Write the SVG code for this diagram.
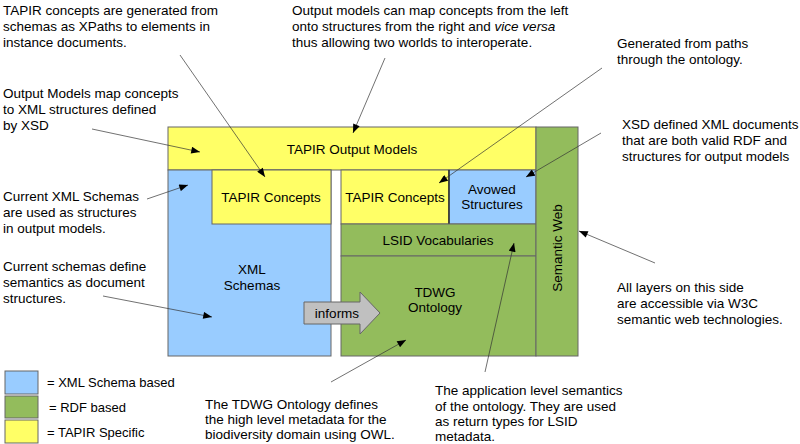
<svg xmlns="http://www.w3.org/2000/svg" width="800" height="444" viewBox="0 0 800 444">
<defs>
<style>
text{font-family:"Liberation Sans",Arial,sans-serif;font-size:13.5px;fill:#000}
.c{text-anchor:middle}
.s{font-size:13px}
.box{stroke:#666;stroke-width:1}
.y{fill:#ffff66}
.b{fill:#99ccff}
.g{fill:#93bc5c}
.ln{stroke:#333;stroke-width:0.7;fill:none;marker-end:url(#ah)}
</style>
<marker id="ah" viewBox="0 0 10 8" refX="10" refY="4" markerWidth="10" markerHeight="7" markerUnits="userSpaceOnUse" orient="auto">
<path d="M0,0 L10,4 L0,8 Z" fill="#000"/>
</marker>
</defs>
<rect width="800" height="444" fill="#fff"/>

<g id="output-models"><rect class="box y" x="168" y="127" width="368" height="43"/><text class="c" x="352" y="154">TAPIR Output Models</text></g>
<g id="xml-schemas"><rect class="box b" x="168" y="170" width="163" height="186"/><text class="c" x="252" y="274">XML</text><text class="c" x="252" y="290">Schemas</text></g>
<g id="tapir-concepts-left"><rect class="box y" x="212" y="170" width="119" height="54"/><text class="c" x="271" y="202">TAPIR Concepts</text></g>
<g id="tapir-concepts-right"><rect class="box y" x="341" y="170" width="108" height="54"/><text class="c" x="395" y="202">TAPIR Concepts</text></g>
<g id="avowed"><rect class="box b" x="449" y="170" width="87" height="54"/><line x1="449" y1="170" x2="449" y2="224" stroke="#000" stroke-width="1"/><text class="c" x="492" y="194">Avowed</text><text class="c" x="492" y="209">Structures</text></g>
<g id="lsid"><rect class="box g" x="341" y="224" width="195" height="32"/><text class="c" x="438" y="245">LSID Vocabularies</text></g>
<g id="tdwg"><rect class="box g" x="341" y="256" width="195" height="100"/><text class="c" x="435" y="297">TDWG</text><text class="c" x="435" y="312">Ontology</text></g>
<g id="semantic-web"><rect class="box g" x="536" y="127" width="42" height="229"/><text class="c" transform="translate(562,248) rotate(-90)">Semantic Web</text></g>
<g id="informs"><path d="M304,302 L360,302 L360,292 L380,313 L360,334 L360,324 L304,324 Z" fill="#c0c0c0" stroke="#666" stroke-width="1"/><text class="c" x="337" y="318">informs</text></g>

<g id="legend">
<rect class="box b" x="5" y="371" width="33" height="23"/>
<rect class="box g" x="5" y="396" width="33" height="22"/>
<rect class="box y" x="5" y="420" width="33" height="23"/>
<text class="s" x="47" y="387">= XML Schema based</text>
<text class="s" x="49" y="412">= RDF based</text>
<text class="s" x="47" y="437">= TAPIR Specific</text>
</g>

<g id="notes">
<text x="3" y="15">TAPIR concepts are generated from</text>
<text x="3" y="31">schemas as XPaths to elements in</text>
<text x="3" y="47">instance documents.</text>
<text x="3" y="98">Output Models map concepts</text>
<text x="3" y="114">to XML structures defined</text>
<text x="3" y="130">by XSD</text>
<text x="292" y="15">Output models can map concepts from the left</text>
<text x="292" y="31">onto structures from the right and <tspan font-style="italic">vice versa</tspan></text>
<text x="292" y="47">thus allowing two worlds to interoperate.</text>
<text x="617" y="48">Generated from paths</text>
<text x="617" y="64">through the ontology.</text>
<text x="622" y="129">XSD defined XML documents</text>
<text x="622" y="145">that are both valid RDF and</text>
<text x="622" y="161">structures for output models</text>
<text x="3" y="201">Current XML Schemas</text>
<text x="3" y="217">are used as structures</text>
<text x="3" y="233">in output models.</text>
<text x="3" y="271">Current schemas define</text>
<text x="3" y="287">semantics as document</text>
<text x="3" y="303">structures.</text>
<text x="617" y="292">All layers on this side</text>
<text x="617" y="308">are accessible via W3C</text>
<text x="617" y="324">semantic web technologies.</text>
<text x="205" y="409">The TDWG Ontology defines</text>
<text x="205" y="424">the high level metadata for the</text>
<text x="205" y="439">biodiversity domain using OWL.</text>
<text x="435" y="395">The application level semantics</text>
<text x="435" y="411">of the ontology. They are used</text>
<text x="435" y="426">as return types for LSID</text>
<text x="435" y="441">metadata.</text>
</g>

<g id="connectors">
<line class="ln" x1="180" y1="55" x2="265" y2="177"/>
<line class="ln" x1="92" y1="129" x2="200" y2="152"/>
<line class="ln" x1="385" y1="58" x2="353" y2="133"/>
<line class="ln" x1="602" y1="68" x2="439" y2="183"/>
<line class="ln" x1="601" y1="133" x2="526" y2="177"/>
<line class="ln" x1="147" y1="199" x2="188" y2="185"/>
<line class="ln" x1="103" y1="296" x2="212" y2="317"/>
<line class="ln" x1="655" y1="263" x2="579" y2="231"/>
<line class="ln" x1="331" y1="382" x2="406" y2="340"/>
<line class="ln" x1="485" y1="372" x2="514" y2="243"/>
</g>
</svg>
